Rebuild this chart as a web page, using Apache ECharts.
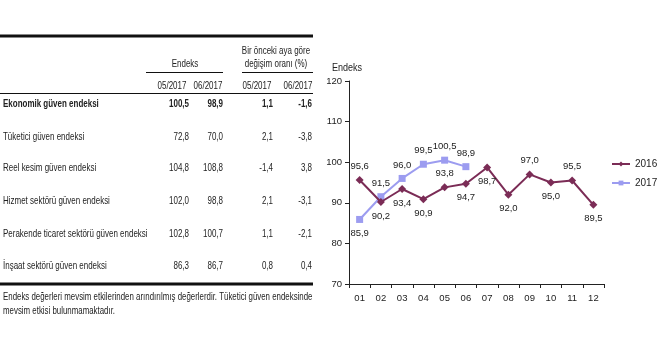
<!DOCTYPE html>
<html><head><meta charset="utf-8">
<script src="https://cdn.jsdelivr.net/npm/echarts@6/dist/echarts.min.js"></script>
<style>html,body{margin:0;padding:0;background:#fff}#c{width:660px;height:350px}</style>
</head><body><div id="c"></div>
<script>
// ---- data ----
const months = ['01','02','03','04','05','06','07','08','09','10','11','12'];
const y2016 = [95.6, 90.2, 93.4, 90.9, 93.8, 94.7, 98.7, 92.0, 97.0, 95.0, 95.5, 89.5];
const y2017 = [85.9, 91.5, 96.0, 99.5, 100.5, 98.9];
const pos2016 = ['top','bottom','bottom','bottom','top','bottom','bottom','bottom','top','bottom','top','bottom'];
const pos2017 = ['bottom','top','top','top','top','top'];
const yTicks = [70, 80, 90, 100, 110, 120];

const rowNames = ['Ekonomik güven endeksi','Tüketici güven endeksi','Reel kesim güven endeksi','Hizmet sektörü güven endeksi','Perakende ticaret sektörü güven endeksi','İnşaat sektörü güven endeksi'];
const endeks05 = ['100,5','72,8','104,8','102,0','102,8','86,3'];
const endeks06 = ['98,9','70,0','108,8','98,8','100,7','86,7'];
const degisim05 = ['1,1','2,1','-1,4','2,1','1,1','0,8'];
const degisim06 = ['-1,6','-3,8','3,8','-3,1','-2,1','0,4'];
const colHeaders = ['05/2017','06/2017','05/2017','06/2017'];
const footnote = ['Endeks değerleri mevsim etkilerinden arındırılmış değerlerdir. Tüketici güven endeksinde','mevsim etkisi bulunmamaktadır.'];

// ---- layout ----
const F = 'Liberation Sans';
const TXT = '#222';
const SX = 0.76;
const rowY = [104, 137, 168, 201, 234, 266];
const colRight = [189, 223, 273, 312];
const headerX = [172, 208, 257, 298];
const TW = 313;

const g = [];
function txt(x, y, s, align, bold, size, sx) {
  g.push({type:'text', x:x, y:y, scaleX:(sx||SX), style:{x:0, y:0, text:s, fill:TXT, font:(bold?'bold ':'')+(size||10.5)+'px "'+F+'"', textAlign:align||'left', textVerticalAlign:'middle'}});
}
function line(x1, y1, x2, y2, w) {
  g.push({type:'line', shape:{x1:x1,y1:y1,x2:x2,y2:y2}, style:{stroke:'#111', lineWidth:w}});
}
line(0, 36, TW, 36, 3);
txt(185, 64, 'Endeks', 'center');
txt(276, 51, 'Bir önceki aya göre', 'center');
txt(276, 64, 'değişim oranı (%)', 'center');
line(146, 72.5, 223, 72.5, 1.2);
line(242, 72.5, TW, 72.5, 1.2);
colHeaders.forEach((h, i) => txt(headerX[i], 86, h, 'center'));
line(0, 93.5, TW, 93.5, 1);
rowNames.forEach((n, i) => {
  const b = i === 0;
  txt(3, rowY[i], n, 'left', b);
  txt(colRight[0], rowY[i], endeks05[i], 'right', b);
  txt(colRight[1], rowY[i], endeks06[i], 'right', b);
  txt(colRight[2], rowY[i], degisim05[i], 'right', b);
  txt(colRight[3], rowY[i], degisim06[i], 'right', b);
});
line(0, 284, TW, 284, 3);
txt(3, 297, footnote[0], 'left', false, 10.5, 0.75);
txt(3, 311, footnote[1], 'left', false, 10.5, 0.75);
txt(332, 68, 'Endeks', 'left', false, 11, 0.82);

const fmt = v => v.toFixed(1).replace('.', ',');
const lbl = { show:true, color:TXT, fontFamily:F, fontSize:9.5, distance:5, formatter: p => fmt(p.value) };

const chart = echarts.init(document.getElementById('c'), null, {renderer:'canvas'});
chart.setOption({
  animation:false,
  backgroundColor:'#fff',
  grid:{left:349, right:56, top:81, bottom:66, containLabel:false},
  legend:{
    orient:'vertical', left:606, top:154, itemGap:9, itemWidth:18, itemHeight:6,
    textStyle:{color:TXT, fontFamily:F, fontSize:10},
    data:['2016','2017']
  },
  xAxis:{
    type:'category', data:months, boundaryGap:true,
    axisLine:{lineStyle:{color:'#222', width:1}},
    axisTick:{show:true, alignWithLabel:false, length:4, lineStyle:{color:'#222'}},
    axisLabel:{color:TXT, fontFamily:F, fontSize:9.5, margin:9}
  },
  yAxis:{
    type:'value', min:yTicks[0], max:yTicks[yTicks.length-1], interval:10,
    axisLine:{show:true, lineStyle:{color:'#222', width:1}},
    axisTick:{show:true, length:4, lineStyle:{color:'#222'}},
    axisLabel:{color:TXT, fontFamily:F, fontSize:9.5, margin:7},
    splitLine:{show:false}
  },
  series:[
    {
      name:'2016', type:'line', symbol:'diamond', symbolSize:8,
      itemStyle:{color:'#7B2C56'}, lineStyle:{color:'#7B2C56', width:2},
      data:y2016.map((v,i)=>({value:v, label:{position:pos2016[i]}})),
      label:lbl, z:3
    },
    {
      name:'2017', type:'line', symbol:'rect', symbolSize:7,
      itemStyle:{color:'#9C9CF0'}, lineStyle:{color:'#9C9CF0', width:2},
      data:y2017.map((v,i)=>({value:v, label:{position:pos2017[i]}})),
      label:lbl, z:2
    }
  ],
  graphic:g
});
</script></body></html>
